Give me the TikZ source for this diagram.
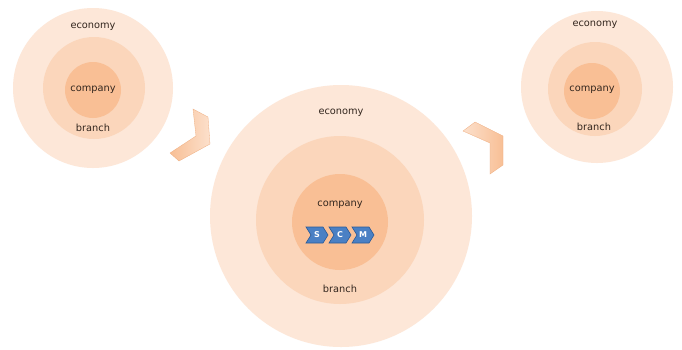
\documentclass[tikz,border=0pt]{standalone}
\usepackage{fontspec}
\setmainfont{DejaVu Sans}
\usetikzlibrary{shapes.symbols}
\definecolor{ringout}{HTML}{FDE7D8}
\definecolor{ringmid}{HTML}{FBD6BB}
\definecolor{ringin}{HTML}{F9BF95}
\definecolor{txt}{HTML}{33261E}
\definecolor{scmblue}{HTML}{4A80C4}
\definecolor{scmedge}{HTML}{2A5A98}
\definecolor{chevA}{HTML}{F8BF95}
\definecolor{chevB}{HTML}{FCE0CC}
\definecolor{chevedge}{HTML}{EFAE80}

\begin{document}
\begin{tikzpicture}[x=1pt,y=-1pt,
  ring/.style={circle,inner sep=0pt,minimum size=#1},
  lbl/.style={font=\fontsize{9.8}{11}\selectfont,text=txt},
  scm/.style={signal,signal from=west,signal to=east,signal pointer angle=116,
    minimum width=22pt,minimum height=16pt,inner sep=0pt,
    fill=scmblue,draw=scmedge,line width=0.6pt,text=white,
    font=\fontsize{8}{9}\selectfont\bfseries}]

\useasboundingbox[fill=white] (0,0) rectangle (682,349);

% Kreise links
\node[ring=160pt,fill=ringout] (eL) at (93,88) {};
\node[ring=102pt,fill=ringmid] (bL) at (94,88) {};
\node[ring=56pt,fill=ringin] (cL) at (93,90) {};
\node[lbl] (ecoL) at (93,27) {economy};
\node[lbl] (comL) at (93,90) {company};
\node[lbl] (braL) at (93,128) {branch};

% Kreise in der Mitte
\node[ring=262pt,fill=ringout] (eM) at (341,216) {};
\node[ring=168pt,fill=ringmid] (bM) at (340,220) {};
\node[ring=96pt,fill=ringin] (cM) at (340,222) {};
\node[lbl] (ecoM) at (341,113) {economy};
\node[lbl] (comM) at (340,205) {company};
\node[lbl] (braM) at (340,289) {branch};

% S C M
\node[scm] (S) at (317,235) {S};
\node[scm] (C) at (340,235) {C};
\node[scm] (M) at (363,235) {M};

% Kreise rechts
\node[ring=152pt,fill=ringout] (eR) at (597,87) {};
\node[ring=94pt,fill=ringmid] (bR) at (595,89) {};
\node[ring=56pt,fill=ringin] (cR) at (592,91) {};
\node[lbl] (ecoR) at (595,25) {economy};
\node[lbl] (comR) at (592,90) {company};
\node[lbl] (braR) at (594,127) {branch};

% Winkel zwischen den Kreisen
\shade[left color=chevA,right color=chevB,draw=chevedge,line width=0.3pt]
  (193,109) -- (208,117) -- (210,144) -- (179,161) -- (170,153) -- (196,136) -- cycle;
\shade[left color=chevB,right color=chevA,draw=chevedge,line width=0.3pt]
  (475,122) -- (503,136) -- (503,165) -- (490,174) -- (490,143) -- (463,131) -- cycle;

\end{tikzpicture}
\end{document}
